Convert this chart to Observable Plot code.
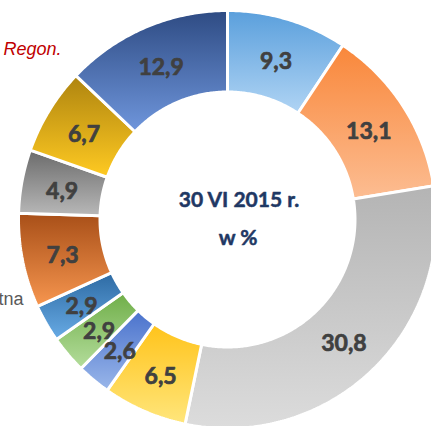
<!DOCTYPE html>
<html><head><meta charset="utf-8">
<script src="https://cdn.jsdelivr.net/npm/d3@7"></script>
<script src="https://cdn.jsdelivr.net/npm/@observablehq/plot@0.6"></script>
<style>body{margin:0;background:#fff;overflow:hidden}</style>
</head><body><div id="chart"></div>
<script>
// Slices clockwise from 12 o'clock
const values = [9.3, 13.1, 30.8, 6.5, 2.6, 2.9, 2.9, 7.3, 4.9, 6.7, 12.9];
const labels = ["9,3", "13,1", "30,8", "6,5", "2,6", "2,9", "2,9", "7,3", "4,9", "6,7", "12,9"];
const topColors = ["#5a9fdc", "#f9873a", "#b4b4b4", "#ffc31a", "#4a72cc", "#6fae48", "#2d6aa3", "#a84f18", "#6b6b6b", "#ae840f", "#2e4b83"];
const bottomColors = ["#b0d4f4", "#fcbd92", "#dcdcdc", "#ffe67c", "#9ab7ea", "#b4dd9c", "#68abe5", "#f7964f", "#b8b8b8", "#ffca22", "#6f96dc"];
const centerLines = ["30 VI 2015 r.", "w %"];
const sideLabels = ["Regon.", "tna"];

const W = 431, H = 426;
const cx = 227, cy = 219, Rpx = 209;
const inner = 0.61;

const total = d3.sum(values);
const slices = [];
let acc = 0;
values.forEach((v, i) => {
  const a0 = acc / total * 2 * Math.PI;
  acc += v;
  const a1 = acc / total * 2 * Math.PI;
  slices.push({i, a0, a1});
});

const rows = [];
for (const s of slices) {
  const n = Math.max(2, Math.ceil((s.a1 - s.a0) / 0.01) + 1);
  const outer = d3.range(n).map(k => s.a0 + (s.a1 - s.a0) * k / (n - 1));
  for (const a of outer) rows.push({slice: s.i, x: Math.sin(a), y: Math.cos(a)});
  for (const a of outer.slice().reverse()) rows.push({slice: s.i, x: inner * Math.sin(a), y: inner * Math.cos(a)});
}

const labelR = (1 + inner) / 2;
const labelRows = slices.map(s => {
  const m = (s.a0 + s.a1) / 2;
  return {text: labels[s.i], x: labelR * Math.sin(m), y: labelR * Math.cos(m)};
});

const defsMark = () => {
  const defs = d3.create("svg:defs");
  values.forEach((v, i) => {
    const g = defs.append("linearGradient").attr("id", "grad" + i)
      .attr("x1", 0).attr("y1", 0).attr("x2", 0).attr("y2", 1);
    g.append("stop").attr("offset", "0%").attr("stop-color", topColors[i]);
    g.append("stop").attr("offset", "100%").attr("stop-color", bottomColors[i]);
  });
  return defs.node();
};

const chart = Plot.plot({
  width: W, height: H, margin: 0,
  style: {fontFamily: "Lato, sans-serif", background: "white", overflow: "hidden"},
  x: {domain: [-cx / Rpx, (W - cx) / Rpx], range: [0, W], axis: null},
  y: {domain: [-(H - cy) / Rpx, cy / Rpx], range: [H, 0], axis: null},
  color: {type: "identity"},
  marks: [
    defsMark,
    Plot.line(rows, {x: "x", y: "y", z: "slice", fill: d => `url(#grad${d.slice})`, stroke: "white", strokeWidth: 3, strokeLinejoin: "miter", curve: "linear-closed"}),
    Plot.text(labelRows, {x: "x", y: "y", text: "text", dy: 3, fontSize: 23, fontWeight: "bold", fill: "#404040", stroke: "#404040", strokeWidth: 0.7}),
    Plot.text([centerLines[0]], {x: 0, y: 0, text: d => d, dx: 11.5, dy: -19.5, fontSize: 21, fontWeight: "bold", fill: "#1f3864", stroke: "#1f3864", strokeWidth: 0.5}),
    Plot.text([centerLines[1]], {x: 0, y: 0, text: d => d, dx: 10.5, dy: 19, fontSize: 21, fontWeight: "bold", fill: "#1f3864", stroke: "#1f3864", strokeWidth: 0.5}),
    Plot.text([sideLabels[0]], {frameAnchor: "top-left", text: d => d, dx: 61, dy: 48.5, textAnchor: "end", lineAnchor: "middle", fontSize: 18, fontStyle: "italic", fontFamily: "Liberation Sans, Arial, sans-serif", fill: "#c00000"}),
    Plot.text([sideLabels[1]], {frameAnchor: "top-left", text: d => d, dx: 23, dy: 299, textAnchor: "end", lineAnchor: "middle", fontSize: 18, fontFamily: "Liberation Sans, Arial, sans-serif", fill: "#595959"})
  ]
});
document.getElementById("chart").append(chart);
</script>
</body></html>
